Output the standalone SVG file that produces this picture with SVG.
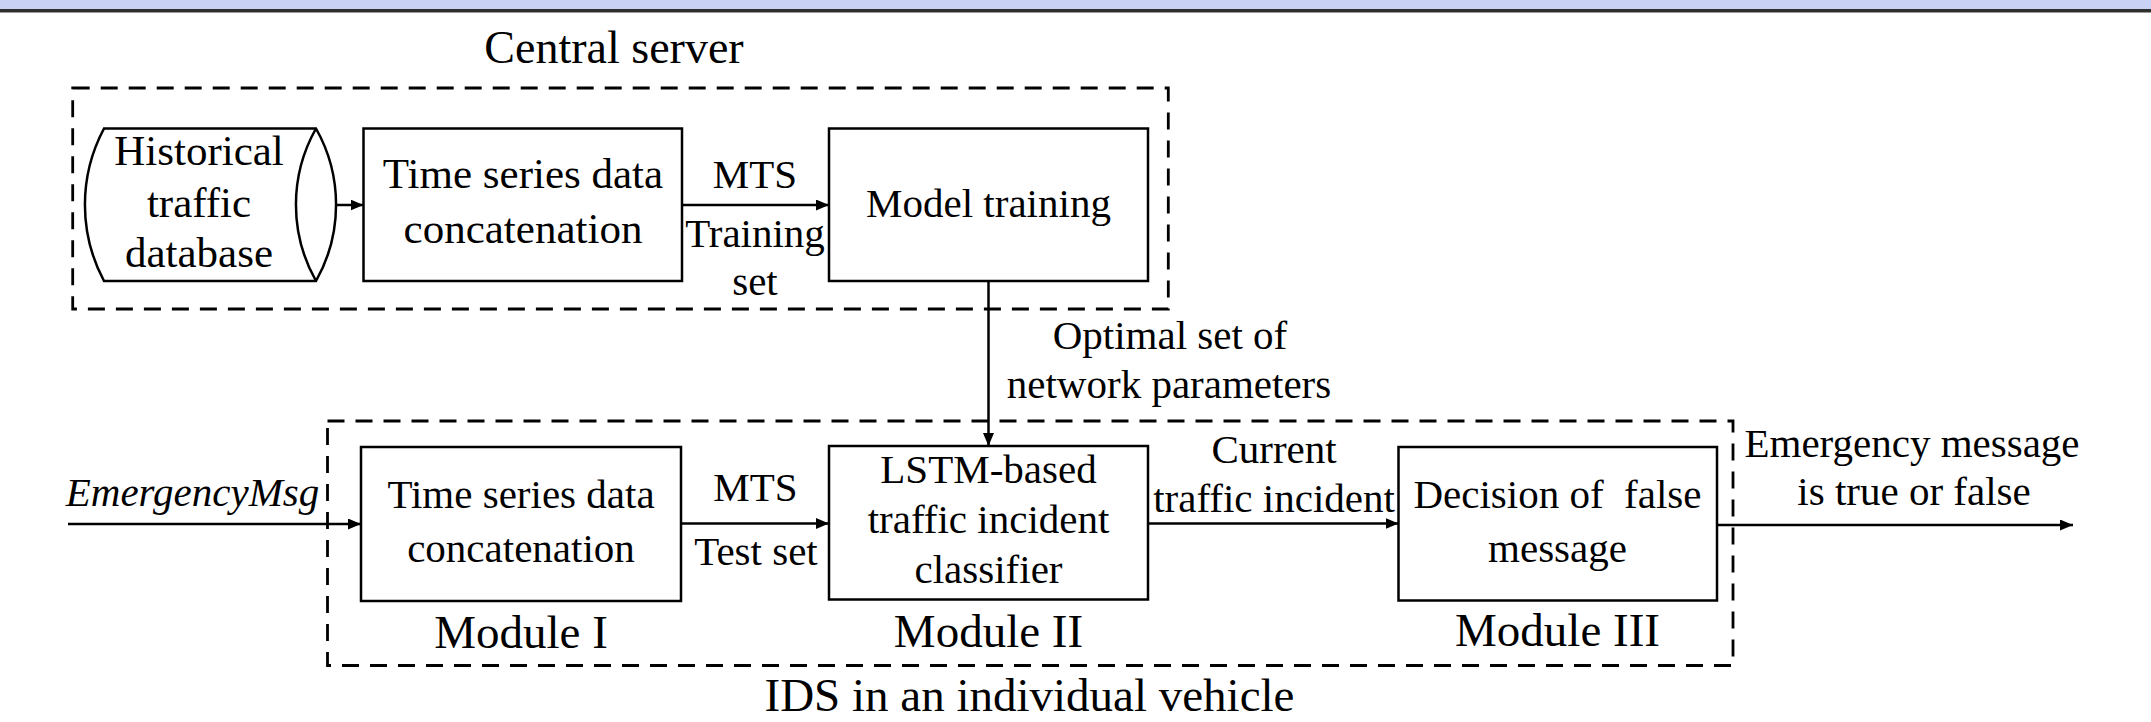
<svg xmlns="http://www.w3.org/2000/svg" width="2151" height="722" viewBox="0 0 2151 722">
  <style>
    text { fill: #000; text-anchor: middle; }
    .t41 { font-size: 41px; }
    .t43 { font-size: 43px; }
    .t46 { font-size: 46px; }
    .t47 { font-size: 47px; }
    .it { font-style: italic; }
    .box { fill: #fff; stroke: #000; stroke-width: 2.5; }
    .frame { fill: none; stroke: #000; stroke-width: 2.8; stroke-dasharray: 17 11; }
    .link { fill: none; stroke: #000; stroke-width: 2.5; marker-end: url(#arrow); }
  </style>
  <defs>
    <marker id="arrow" viewBox="0 0 13 11" refX="13" refY="5.5" markerWidth="13" markerHeight="11" markerUnits="userSpaceOnUse" orient="auto">
      <path d="M0,0 L13,5.5 L0,11 Z" fill="#000"/>
    </marker>
  </defs>

  <!-- page header band -->
  <rect x="0" y="0" width="2151" height="9" fill="#c9d1f5"/>
  <rect x="0" y="9" width="2151" height="3" fill="#2f2f2f"/>
  <rect x="0" y="12" width="2151" height="1" fill="#9a9a9a"/>

  <g font-family="Liberation Serif" style="font-family: 'Liberation Serif', serif">
  <!-- central server -->
  <g id="central-server">
    <rect class="frame" x="72.7" y="88" width="1095.6" height="221"/>
    <text class="t46" x="614" y="63">Central server</text>
  </g>

  <g id="historical-db">
    <path class="box" d="M104,128.5 L316,128.5 A155,155 0 0 1 316,281 L104,281 A162,162 0 0 1 104,128.5 Z"/>
    <path class="box" style="fill:none" d="M316,128.5 A155,155 0 0 0 316,281"/>
    <text class="t43" x="199" y="165">Historical</text>
    <text class="t43" x="199" y="217">traffic</text>
    <text class="t43" x="199" y="267">database</text>
  </g>

  <g id="ts-concat-server">
    <rect class="box" x="363.5" y="128.5" width="318.5" height="152.5"/>
    <text class="t43" x="523" y="188">Time series data</text>
    <text class="t43" x="523" y="243">concatenation</text>
  </g>

  <g id="model-training">
    <rect class="box" x="829" y="128.5" width="319" height="152.5"/>
    <text class="t41" x="988.5" y="217">Model training</text>
  </g>

  <!-- IDS in an individual vehicle -->
  <g id="ids-vehicle">
    <rect class="frame" x="327.5" y="421" width="1405.5" height="244.5"/>
    <text class="t47" x="1029.5" y="711">IDS in an individual vehicle</text>
  </g>

  <g id="module-1">
    <rect class="box" x="361" y="447" width="320" height="154"/>
    <text class="t41" x="521" y="508">Time series data</text>
    <text class="t41" x="521" y="562">concatenation</text>
    <text class="t47" x="521" y="647.5">Module I</text>
  </g>

  <g id="module-2">
    <rect class="box" x="829" y="446" width="319" height="153.5"/>
    <text class="t41" x="988.5" y="483">LSTM-based</text>
    <text class="t41" x="988.5" y="533">traffic incident</text>
    <text class="t41" x="988.5" y="583">classifier</text>
    <text class="t47" x="988.5" y="647">Module II</text>
  </g>

  <g id="module-3">
    <rect class="box" x="1398.5" y="447" width="318.5" height="153.5"/>
    <text class="t41" x="1557.5" y="508" xml:space="preserve">Decision of  false</text>
    <text class="t41" x="1557.5" y="562">message</text>
    <text class="t47" x="1557.5" y="646">Module III</text>
  </g>

  <!-- connectors -->
  <g id="connectors">
    <path class="link" d="M336,205 L363.5,205"/>
    <path class="link" d="M682,205 L829,205"/>
    <path class="link" d="M988.5,281 L988.5,446"/>
    <path class="link" d="M68,524 L361,524"/>
    <path class="link" d="M681,523.5 L829,523.5"/>
    <path class="link" d="M1148,523.5 L1398.5,523.5"/>
    <path class="link" d="M1717,525 L2073,525"/>

    <text class="t41" x="755" y="188">MTS</text>
    <text class="t41" x="755" y="247">Training</text>
    <text class="t41" x="755" y="295">set</text>
    <text class="t41" x="1170" y="349">Optimal set of</text>
    <text class="t41" x="1169" y="398">network parameters</text>
    <text class="t41 it" x="192.5" y="506">EmergencyMsg</text>
    <text class="t41" x="755.5" y="501">MTS</text>
    <text class="t41" x="756" y="565">Test set</text>
    <text class="t41" x="1274" y="463">Current</text>
    <text class="t41" x="1274" y="512">traffic incident</text>
    <text class="t41" x="1912" y="457">Emergency message</text>
    <text class="t41" x="1914" y="505">is true or false</text>
  </g>
  </g>
</svg>
